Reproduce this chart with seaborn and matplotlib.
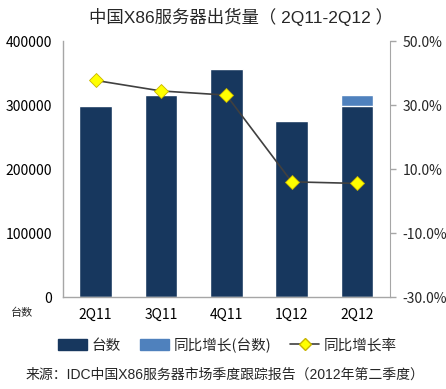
import matplotlib
matplotlib.use("Agg")
import matplotlib.pyplot as plt
import seaborn as sns
import pandas as pd
from matplotlib.patches import Patch
from matplotlib.lines import Line2D
from matplotlib.ticker import FuncFormatter, MultipleLocator, FixedLocator

sns.set_style("white")
plt.rcParams['font.family'] = ['Noto Sans CJK SC', 'DejaVu Sans']

quarters = ["2Q11", "3Q11", "4Q11", "1Q12", "2Q12"]
units = [299000, 315600, 356000, 274500, 299000]
growth_units = [0, 0, 0, 0, 16600]
growth_rate = [37.7, 34.4, 33.1, 6.0, 5.5]
rate_ticks = [-30, -10, 10, 30, 50]

df = pd.DataFrame({"quarter": quarters, "units": units,
                   "total": [u + g for u, g in zip(units, growth_units)],
                   "rate": growth_rate})

dark = "#17375E"
light = "#4F81BD"
latin = ['Liberation Sans', 'Noto Sans CJK SC']

fig = plt.figure(figsize=(4.46, 3.89), dpi=100)
ax = fig.add_axes([0.141, 0.2365, 0.733, 0.658])

sns.barplot(data=df, x="quarter", y="total", color=light, saturation=1,
            width=0.5, ax=ax, order=quarters)
sns.barplot(data=df, x="quarter", y="units", color=dark, saturation=1,
            width=0.5, ax=ax, order=quarters)

ax.set_ylim(0, 400000)
ax.set_xlim(-0.5, 4.5)
ax.yaxis.set_major_locator(MultipleLocator(100000))
ax.set_xlabel("")
ax.set_ylabel("")
ax.tick_params(axis="both", length=0, labelsize=10, colors="#000000", pad=8)
for s in ["top", "right"]:
    ax.spines[s].set_visible(False)
for s in ["left", "bottom"]:
    ax.spines[s].set_color("#A6A6A6")
    ax.spines[s].set_linewidth(1)

ax2 = ax.twinx()
xs = list(range(len(quarters)))
sns.lineplot(x=xs, y=growth_rate, ax=ax2, color="#404040", linewidth=1.2,
             marker="D", markersize=7.5, markerfacecolor="#FFFF00",
             markeredgecolor="#C8B400", markeredgewidth=0.6)
ax2.set_ylim(-30, 50)
ax2.set_xlim(-0.5, 4.5)
ax2.yaxis.set_major_locator(FixedLocator(rate_ticks))
ax2.yaxis.set_major_formatter(FuncFormatter(lambda v, p: f"{v:.1f}%"))
ax2.tick_params(axis="y", length=4, width=1, color="#A6A6A6", labelsize=10, pad=5)
for s in ["top", "left", "bottom"]:
    ax2.spines[s].set_visible(False)
ax2.spines["right"].set_color("#A6A6A6")

fig.text(0.54, 0.956, "中国X86服务器出货量（ 2Q11-2Q12 ）", ha="center", va="center",
         fontsize=12.5, family=latin)
fig.text(0.05, 0.195, "台数", ha="center", va="center", fontsize=8)

handles = [Patch(facecolor=dark, edgecolor=dark),
           Patch(facecolor=light, edgecolor=light),
           Line2D([0], [0], color="#404040", linewidth=1.2, marker="D",
                  markersize=6, markerfacecolor="#FFFF00", markeredgecolor="#C8B400")]
labels = ["台数", "同比增长(台数)", "同比增长率"]
fig.legend(handles, labels, loc="center", bbox_to_anchor=(0.51, 0.113), ncol=3,
           frameon=False, fontsize=10.5, handlelength=2.0, handleheight=0.8,
           columnspacing=1.3, handletextpad=0.3)

fig.text(0.505, 0.038, "来源：IDC中国X86服务器市场季度跟踪报告（2012年第二季度）",
         ha="center", va="center", fontsize=10, family=latin)

fig.savefig("out.png", dpi=100)
